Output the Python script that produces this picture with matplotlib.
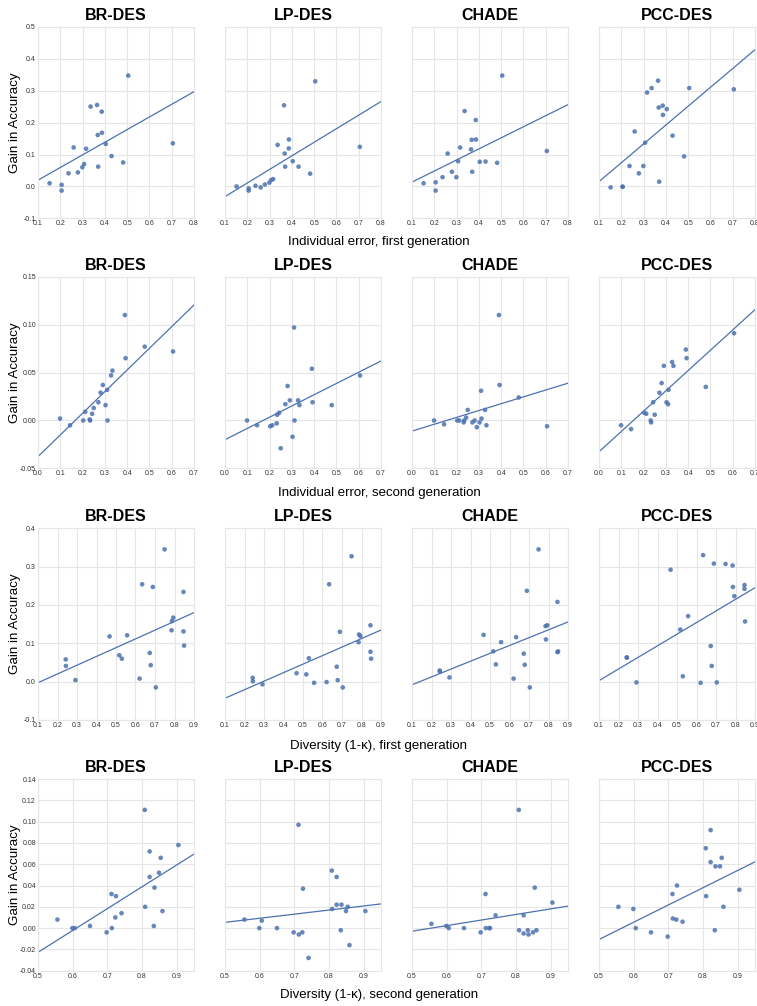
import matplotlib
matplotlib.use('Agg')
import matplotlib.pyplot as plt
from matplotlib.ticker import FormatStrFormatter
import numpy as np

plt.rcParams['font.family'] = ['Liberation Sans', 'DejaVu Sans']

methods = ['BR-DES', 'LP-DES', 'CHADE', 'PCC-DES']

# row 1: individual error, first generation
err1 = [0.152, 0.206, 0.206, 0.237, 0.260, 0.279, 0.299, 0.307, 0.316, 0.336,
        0.365, 0.368, 0.370, 0.386, 0.387, 0.404, 0.430, 0.482, 0.505, 0.705]
err1_br = [0.010, 0.005, -0.013, 0.041, 0.122, 0.044, 0.060, 0.070, 0.118, 0.250,
           0.255, 0.161, 0.062, 0.234, 0.168, 0.133, 0.095, 0.075, 0.347, 0.135]
err1_lp = [0.000, -0.006, -0.013, 0.002, -0.003, 0.006, 0.012, 0.020, 0.023, 0.130,
           0.254, 0.103, 0.062, 0.119, 0.147, 0.079, 0.062, 0.040, 0.329, 0.124]
err1_ch = [0.010, 0.013, -0.013, 0.029, 0.103, 0.046, 0.029, 0.079, 0.122, 0.236,
           0.116, 0.146, 0.046, 0.208, 0.147, 0.077, 0.078, 0.074, 0.347, 0.111]
err1_pcc = [-0.003, -0.001, -0.001, 0.064, 0.172, 0.041, 0.064, 0.137, 0.294, 0.308,
            0.331, 0.247, 0.015, 0.253, 0.224, 0.242, 0.159, 0.094, 0.308, 0.304]

# row 2: individual error, second generation
err2 = [0.099, 0.144, 0.203, 0.212, 0.232, 0.234, 0.243, 0.250, 0.271, 0.281,
        0.291, 0.303, 0.310, 0.312, 0.328, 0.334, 0.390, 0.393, 0.479, 0.606]
err2_br = [0.002, -0.005, 0.000, 0.009, 0.001, 0.000, 0.007, 0.013, 0.019, 0.029,
           0.037, 0.016, 0.032, 0.000, 0.047, 0.052, 0.110, 0.065, 0.077, 0.072]
err2_lp = [0.000, -0.005, -0.006, -0.005, -0.003, 0.006, 0.008, -0.029, 0.017, 0.036,
           0.021, -0.017, 0.097, 0.000, 0.021, 0.016, 0.054, 0.019, 0.016, 0.047]
err2_ch = [0.000, -0.004, 0.000, 0.000, -0.002, 0.000, 0.003, 0.011, -0.002, 0.000,
           -0.007, -0.002, 0.031, 0.002, 0.011, -0.005, 0.110, 0.037, 0.024, -0.006]
err2_pcc = [-0.005, -0.009, 0.008, 0.007, 0.000, -0.002, 0.019, 0.006, 0.029, 0.039,
            0.057, 0.019, 0.017, 0.032, 0.061, 0.057, 0.074, 0.065, 0.035, 0.091]

# row 3: diversity, first generation
div1 = [0.242, 0.243, 0.292, 0.467, 0.517, 0.530, 0.557, 0.621, 0.634, 0.673,
        0.678, 0.689, 0.704, 0.749, 0.785, 0.787, 0.794, 0.846, 0.846, 0.849]
div1_br = [0.058, 0.041, 0.004, 0.118, 0.069, 0.060, 0.121, 0.008, 0.254, 0.075,
           0.043, 0.247, -0.015, 0.345, 0.134, 0.158, 0.167, 0.234, 0.131, 0.094]
div1_lp = [0.010, 0.001, -0.007, 0.022, 0.019, 0.061, -0.003, -0.001, 0.254, 0.039,
           0.004, 0.130, -0.015, 0.327, 0.103, 0.123, 0.119, 0.147, 0.078, 0.060]
div1_ch = [0.029, 0.026, 0.011, 0.122, 0.079, 0.045, 0.103, 0.008, 0.116, 0.073,
           0.044, 0.237, -0.015, 0.345, 0.145, 0.110, 0.147, 0.208, 0.077, 0.079]
div1_pcc = [0.063, 0.063, -0.002, 0.292, 0.136, 0.014, 0.171, -0.003, 0.330, 0.093,
            0.041, 0.308, -0.002, 0.307, 0.303, 0.247, 0.223, 0.252, 0.242, 0.157]

# row 4: diversity, second generation
div2 = [0.556, 0.599, 0.606, 0.650, 0.698, 0.712, 0.713, 0.723, 0.725, 0.741,
        0.808, 0.809, 0.822, 0.822, 0.834, 0.836, 0.849, 0.854, 0.859, 0.905]
div2_br = [0.008, 0.000, 0.000, 0.002, -0.004, 0.032, 0.000, 0.010, 0.030, 0.014,
           0.111, 0.020, 0.048, 0.072, 0.002, 0.038, 0.052, 0.066, 0.016, 0.078]
div2_lp = [0.008, 0.000, 0.007, 0.000, -0.004, 0.097, -0.006, -0.004, 0.037, -0.028,
           0.054, 0.018, 0.048, 0.022, -0.002, 0.022, 0.016, 0.020, -0.016, 0.016]
div2_ch = [0.004, 0.002, 0.000, 0.000, -0.004, 0.032, 0.000, 0.000, 0.000, 0.012,
           0.111, -0.002, 0.012, -0.005, -0.002, -0.006, -0.004, 0.038, -0.002, 0.024]
div2_pcc = [0.020, 0.018, 0.000, -0.004, -0.008, 0.032, 0.009, 0.008, 0.040, 0.006,
            0.075, 0.030, 0.092, 0.062, -0.002, 0.058, 0.058, 0.066, 0.020, 0.036]

rows = [
    (err1, [err1_br, err1_lp, err1_ch, err1_pcc], 'Individual error, first generation',
     (0.1, 0.8), np.arange(0.1, 0.81, 0.1), (-0.1, 0.5), np.arange(-0.1, 0.51, 0.1), '%.1f'),
    (err2, [err2_br, err2_lp, err2_ch, err2_pcc], 'Individual error, second generation',
     (0.0, 0.7), np.arange(0.0, 0.71, 0.1), (-0.05, 0.15), np.arange(-0.05, 0.151, 0.05), '%.2f'),
    (div1, [div1_br, div1_lp, div1_ch, div1_pcc], 'Diversity (1-\u03ba), first generation',
     (0.1, 0.9), np.arange(0.1, 0.91, 0.1), (-0.1, 0.4), np.arange(-0.1, 0.41, 0.1), '%.1f'),
    (div2, [div2_br, div2_lp, div2_ch, div2_pcc], 'Diversity (1-\u03ba), second generation',
     (0.5, 0.95), np.arange(0.5, 0.91, 0.1), (-0.04, 0.14), np.arange(-0.04, 0.141, 0.02), '%.2f'),
]

W, H = 757, 1006
fig = plt.figure(figsize=(W / 100, H / 100), dpi=100)

col_left = [38, 225, 412, 599]
ax_w = 156
row_top = [26.7, 276.7, 528.3, 779]
ax_h = 191.7
label_y = [242, 493, 746, 995]

blue = '#4c72b0'
grid_c = '#e6e6e6'

for r, (xs, ys_list, xlabel, xlim, xticks, ylim, yticks, yfmt) in enumerate(rows):
    for c, ys in enumerate(ys_list):
        ax = fig.add_axes([col_left[c] / W, 1 - (row_top[r] + ax_h) / H, ax_w / W, ax_h / H])
        ax.set_facecolor('white')
        ax.grid(True, color=grid_c, lw=0.8)
        ax.set_axisbelow(True)
        for s in ax.spines.values():
            s.set_color(grid_c)
            s.set_linewidth(0.8)

        ax.scatter(xs, ys, s=11, color=blue, alpha=0.85, edgecolors='none', zorder=3)
        k, b = np.polyfit(xs, ys, 1)
        xx = np.array(xlim)
        ax.plot(xx, k * xx + b, color=blue, lw=0.9, zorder=2)

        ax.set_xlim(xlim)
        ax.set_ylim(ylim)
        ax.set_xticks(xticks)
        ax.set_yticks(yticks)
        ax.xaxis.set_major_formatter(FormatStrFormatter('%.1f'))
        ax.yaxis.set_major_formatter(FormatStrFormatter(yfmt))
        ax.tick_params(length=0, labelsize=5, colors='#333333', pad=1.5)
        if c > 0:
            ax.tick_params(labelleft=False)
        ax.set_title(methods[c], fontsize=11.5, fontweight='bold', pad=5)

    fig.text(15 / W, 1 - (row_top[r] + ax_h / 2) / H, 'Gain in Accuracy',
             rotation=90, ha='center', va='center', fontsize=9.6)
    fig.text(379 / W, 1 - label_y[r] / H, xlabel, ha='center', va='center', fontsize=9.5)

fig.savefig('out.png', dpi=100)
